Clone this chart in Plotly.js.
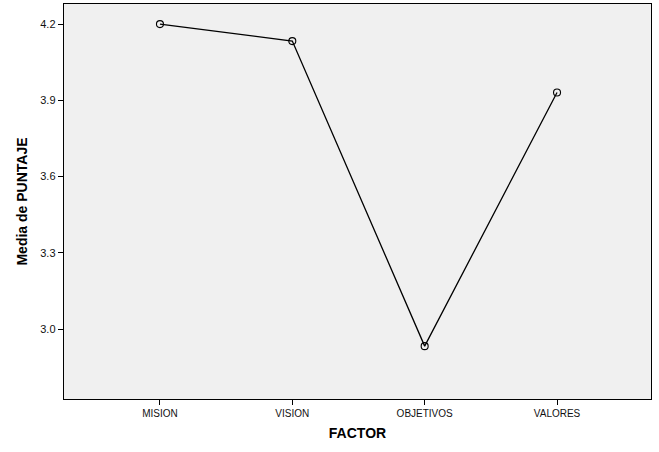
<!DOCTYPE html>
<html>
<head>
<meta charset="utf-8">
<script src="https://cdn.plot.ly/plotly-3.0.1.min.js"></script>
<style>html,body{margin:0;padding:0;background:#fff;}#chart{width:659px;height:452px;}</style>
</head>
<body>
<div id="chart"></div>
<script>
const categories = ["MISION", "VISION", "OBJETIVOS", "VALORES"];
const meanScores = [4.20, 4.133, 2.933, 3.931];
const yTickValues = [3.0, 3.3, 3.6, 3.9, 4.2];
const yTickLabels = ["3.0", "3.3", "3.6", "3.9", "4.2"];

const trace = {
  x: categories,
  y: meanScores,
  type: "scatter",
  mode: "lines+markers",
  line: {color: "#000000", width: 1.3},
  marker: {symbol: "circle-open", size: 7, color: "#000000", line: {width: 1.1, color: "#000000"}},
  hoverinfo: "x+y"
};

const layout = {
  width: 659, height: 452,
  margin: {l: 64, r: 8, t: 4, b: 53},
  paper_bgcolor: "#ffffff",
  plot_bgcolor: "#f0f0f0",
  showlegend: false,
  font: {family: "Arial, Liberation Sans, sans-serif", color: "#000000"},
  xaxis: {
    type: "category",
    range: [-0.725, 3.71],
    showgrid: false, zeroline: false,
    showline: true, linecolor: "#000000", linewidth: 1.3, mirror: true,
    ticks: "outside", ticklen: 5, tickcolor: "#000000", tickwidth: 1,
    tickfont: {size: 10, family: "Arial, Liberation Sans, sans-serif", color: "#111"},
    title: {text: "<b>FACTOR</b>", font: {size: 14, family: "Arial, Liberation Sans, sans-serif"}, standoff: 10}
  },
  yaxis: {
    range: [2.725, 4.279],
    tickvals: yTickValues, ticktext: yTickLabels,
    showgrid: false, zeroline: false,
    showline: true, linecolor: "#000000", linewidth: 1.3, mirror: true,
    ticks: "outside", ticklen: 5, tickcolor: "#000000", tickwidth: 1,
    tickfont: {size: 11, family: "Arial, Liberation Sans, sans-serif", color: "#111"},
    title: {text: "<b>Media de PUNTAJE</b>", font: {size: 14, family: "Arial, Liberation Sans, sans-serif"}, standoff: 9}
  }
};

Plotly.newPlot("chart", [trace], layout, {displayModeBar: false, staticPlot: true});
</script>
</body>
</html>
